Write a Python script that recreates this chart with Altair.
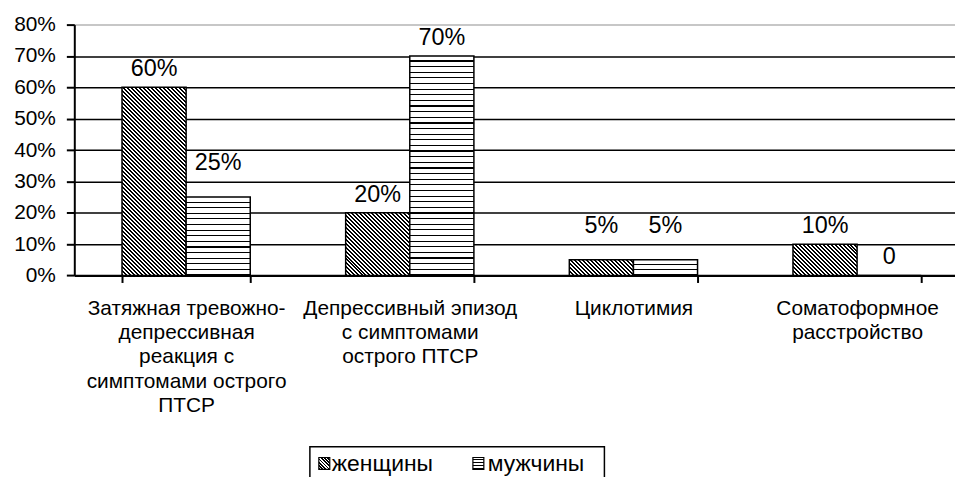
import altair as alt
import pandas as pd

categories = [
    "Затяжная тревожно-\nдепрессивная\nреакция с\nсимптомами острого\nПТСР",
    "Депрессивный эпизод\nс симптомами\nострого ПТСР",
    "Циклотимия",
    "Соматоформное\nрасстройство",
]
series = ["женщины", "мужчины"]
women = [60, 20, 5, 10]
men = [25, 70, 5, 0]
y_ticks = [0, 10, 20, 30, 40, 50, 60, 70, 80]

# geometry (pixels)
PLOT_W = 886
STEP = 225.0
GROUP_W = 129.0
PLOT_H = 252.4
N = len(categories)
PAD_INNER = 1 - GROUP_W / STEP
PAD_OUTER = (PLOT_W / STEP - N + PAD_INNER) / 2
FIRST_START = PAD_INNER * STEP / 2
ALIGN = FIRST_START / (PLOT_W - STEP * (N - PAD_INNER))
BAR_W = GROUP_W / 2
PX_PER_PCT = PLOT_H / 80


def diag_grad(w, h, period=4.0):
    a = (w + h) / (w * w + h * h)
    n = max(1, round((w + h) / period))
    stops = []
    for k in range(n):
        o0, o1, o2 = k / n, (k + 0.5) / n, (k + 1) / n
        stops += [
            {"offset": o0, "color": "black"},
            {"offset": o1, "color": "black"},
            {"offset": o1, "color": "white"},
            {"offset": o2, "color": "white"},
        ]
    return {"gradient": "linear", "x1": 0, "y1": 1, "x2": a * w, "y2": 1 - a * h, "stops": stops}


def horiz_grad(h, period=5.6, lw=1.2):
    n = max(1, round(h / period))
    stops = []
    for k in range(n):
        o0, o2 = k / n, (k + 1) / n
        o1 = max(o0, o2 - lw / h)
        stops += [
            {"offset": o0, "color": "white"},
            {"offset": o1, "color": "white"},
            {"offset": o1, "color": "black"},
            {"offset": o2, "color": "black"},
        ]
    return {"gradient": "linear", "x1": 0, "y1": 0, "x2": 0, "y2": 1, "stops": stops}


rows = []
for i, c in enumerate(categories):
    rows.append({"cat": c, "i": i, "g": series[0], "v": women[i]})
    rows.append({"cat": c, "i": i, "g": series[1], "v": men[i]})
df = pd.DataFrame(rows)

rule = None
for r in rows:
    if r["v"] <= 0:
        continue
    h = r["v"] * PX_PER_PCT
    grad = diag_grad(BAR_W, h) if r["g"] == series[0] else horiz_grad(h)
    pred = (alt.datum.i == r["i"]) & (alt.datum.g == r["g"])
    rule = alt.when(pred).then(alt.value(grad)) if rule is None else rule.when(pred).then(alt.value(grad))
fill_enc = rule.otherwise(alt.value("white"))

x_scale = alt.Scale(paddingInner=PAD_INNER, paddingOuter=PAD_OUTER, align=ALIGN)
x_axis = alt.Axis(
    title=None,
    labelExpr="split(datum.label, '\\n')",
    labelAngle=0,
    labelFontSize=21,
    labelLineHeight=24.5,
    labelLimit=400,
    labelPadding=15,
    labelBaseline="top",
    labelColor="black",
    labelFont="Liberation Sans",
    tickSize=7,
    tickWidth=2,
    tickColor="black",
    domainColor="black",
    domainWidth=2,
    tickBand="extent",
    grid=False,
)
xoff_scale = alt.Scale(paddingInner=0, paddingOuter=0)

y_axis = alt.Axis(
    title=None,
    values=y_ticks,
    labelExpr="datum.value + '%'",
    labelFontSize=21,
    labelPadding=11,
    labelOverlap=False,
    labelColor="black",
    labelFont="Liberation Sans",
    tickSize=8,
    tickWidth=2,
    tickColor="black",
    domainColor="black",
    domainWidth=2,
    gridColor={"condition": {"test": "datum.value === 80", "value": "#b4b4b4"}, "value": "black"},
    gridWidth=1.5,
)
y_scale = alt.Scale(domain=[0, 80], nice=False)

base = alt.Chart(df)

bars = base.mark_bar(stroke="black", strokeWidth=1.5).encode(
    x=alt.X("cat:N", sort=categories, scale=x_scale, axis=x_axis),
    xOffset=alt.XOffset("g:N", sort=series, scale=xoff_scale),
    y=alt.Y("v:Q", scale=y_scale, axis=y_axis),
    fill=fill_enc,
)

labels = base.transform_calculate(
    lp="ceil(datum.v / 10) * 10 + 5.8",
    txt="datum.v == 0 ? '0' : datum.v + '%'",
).mark_text(fontSize=23.5, font="Liberation Sans", baseline="middle", align="center", color="black").encode(
    x=alt.X("cat:N", sort=categories, scale=x_scale, axis=x_axis),
    xOffset=alt.XOffset("g:N", sort=series, scale=xoff_scale),
    y=alt.Y("lp:Q", scale=y_scale, axis=y_axis),
    text="txt:N",
)

leg_df = pd.DataFrame({"label": series})

box = alt.Chart(leg_df).transform_filter(alt.datum.label == series[0]).mark_rect(
    fillOpacity=0, stroke="black", strokeWidth=1.5
).encode(x=alt.value(237), x2=alt.value(533.3), y=alt.value(424.7), y2=alt.value(470))

icon_w = alt.Chart(leg_df).transform_filter(alt.datum.label == series[0]).mark_rect(
    stroke="black", strokeWidth=1.2, fill=diag_grad(11, 12, 3.2)
).encode(x=alt.value(246), x2=alt.value(257), y=alt.value(435.5), y2=alt.value(447.5))

icon_m = alt.Chart(leg_df).transform_filter(alt.datum.label == series[1]).mark_rect(
    stroke="black", strokeWidth=1.2, fill=horiz_grad(12, 3.0, 1.0)
).encode(x=alt.value(401), x2=alt.value(412), y=alt.value(435.5), y2=alt.value(447.5))

txt_w = alt.Chart(leg_df).transform_filter(alt.datum.label == series[0]).mark_text(
    fontSize=23, font="Liberation Sans", align="left", baseline="middle", color="black"
).encode(x=alt.value(259), y=alt.value(442), text="label:N")

txt_m = alt.Chart(leg_df).transform_filter(alt.datum.label == series[1]).mark_text(
    fontSize=23, font="Liberation Sans", align="left", baseline="middle", color="black"
).encode(x=alt.value(416), y=alt.value(442), text="label:N")

chart = alt.layer(bars, labels, box, icon_w, icon_m, txt_w, txt_m).properties(
    width=PLOT_W,
    height=PLOT_H,
    padding={"left": 66.7, "top": 15.3, "right": 0, "bottom": 201.3},
    autosize=alt.AutoSizeParams(type="none"),
).configure_view(strokeWidth=0)

chart.save("out.html", embed_options={"renderer": "svg", "actions": False})
